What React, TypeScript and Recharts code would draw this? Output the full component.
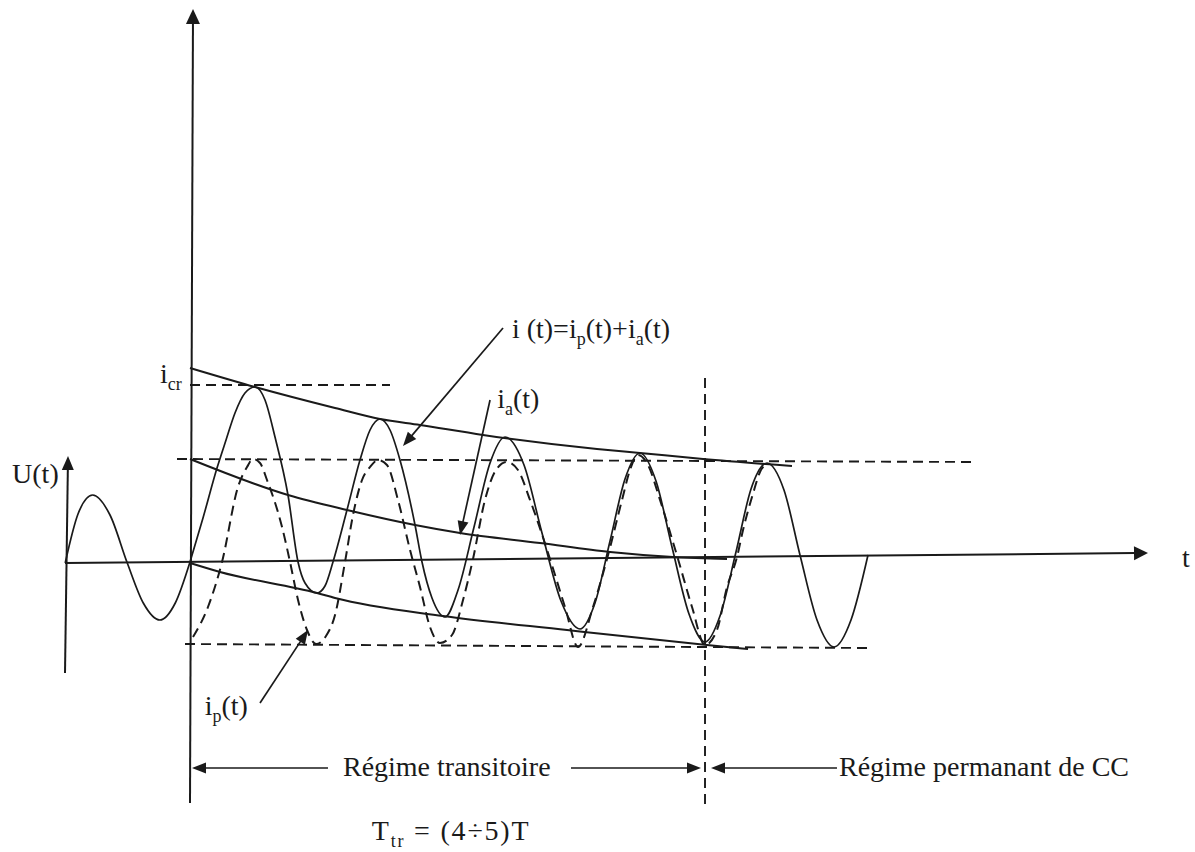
import React from 'react';
import { ComposedChart, Line, XAxis, YAxis, ReferenceLine, ReferenceDot } from 'recharts';

// time t in ms (T = 20 ms), current / voltage in arbitrary units
const T_DOMAIN: [number, number] = [-29.6875, 157.03125];
const I_DOMAIN: [number, number] = [-29, 56.2];

const uT = [-19.5, -17.5, -15.2, -12.5, -9.8, -7.3, -4.7, -2.3, 0];
const uV = [-0.1, 4.8, 6.7, 4.7, -0.1, -4.1, -5.8, -4.1, 0];

const iT = [0, 2.03, 4.22, 5.63, 7.03, 8.59, 10.16, 11.72, 13.28, 15.31, 16.88, 17.97, 19.84, 21.09, 22.34, 24.53, 26.56, 28.13, 29.69, 31.25, 32.81, 35.16, 36.25, 37.81, 39.84, 41.88, 44.38, 46.88, 49.22, 52.19, 55.0, 57.97, 60.94, 63.28, 65.63, 67.97, 70.31, 72.81, 75.31, 77.97, 80.47, 82.81, 85.31, 87.66, 90.16, 92.81, 95.31, 97.97, 100.63, 103.28, 105.94];
const iV = [0, 4.4, 9.4, 12.2, 14.9, 16.9, 17.5, 16.2, 12.5, 6.7, 0, -2.1, -3.1, -2.4, 0, 5.2, 10.2, 13.2, 14.3, 13.2, 10.2, 3.7, 0, -3.6, -5.5, -2.8, 3.5, 9.9, 12.5, 9.7, 2.9, -3.9, -6.7, -4.1, 2.1, 8.3, 10.9, 8.1, 1.5, -5.2, -8.0, -5.4, 1.0, 7.3, 9.9, 7.2, 0.7, -5.8, -8.5, -5.8, 0.7];

const ipT = [0.47, 2.81, 5.0, 7.5, 8.91, 9.84, 10.94, 12.03, 14.38, 15.63, 16.88, 18.28, 19.69, 21.25, 22.66, 24.22, 25.47, 26.88, 28.13, 29.38, 30.78, 32.5, 34.38, 35.94, 37.5, 39.06, 40.94, 42.66, 44.22, 46.09, 47.81, 49.53, 51.25, 53.13, 56.25, 58.59, 60.63, 62.97, 65.16, 67.5, 68.75, 70.0, 71.56, 73.44, 76.25, 78.44, 80.47, 82.34, 83.91, 85.47, 86.41, 88.0, 89.06, 90.16];
const ipV = [-7.5, -4.5, 0, 7.5, 9.5, 10.3, 9.9, 8.2, 3.5, 0, -3.8, -6.8, -8.2, -7.4, -5.3, 0, 4.7, 8.2, 9.5, 10.2, 9.7, 6.2, 1.2, -2.5, -6.5, -8.1, -7.3, -3.8, 0.3, 6.2, 9.2, 10.0, 9.2, 6.2, 0.3, -4.5, -8.5, -4.5, 0.3, 6.2, 9.2, 10.7, 9.7, 6.2, 0.3, -4.5, -8.3, -6.8, -2.5, 0.5, 3.2, 6.9, 9.0, 9.9];

const envUpT = [0, 10.16, 22.66, 29.69, 35.94, 45.78, 63.59, 70.31, 80.16, 94.06];
const envUpV = [19.4, 17.5, 15.4, 14.3, 13.7, 12.7, 11.3, 10.9, 10.3, 9.6];

const iaT = [0, 15.31, 24.53, 35.16, 42.19, 54.69, 65.63, 75.47, 83.91];
const iaV = [10.3, 6.7, 5.2, 3.7, 2.9, 1.9, 1.0, 0.5, 0.3];

const envLoT = [0, 4.69, 19.84, 22.66, 39.53, 58.91, 80.78, 87.19];
const envLoV = [-0.1, -1.0, -3.1, -3.6, -5.4, -6.8, -8.3, -8.7];

const zip = (ts: number[], vs: number[]) => ts.map((t, k) => ({ t, v: vs[k] }));

const uData = zip(uT, uV);
const iData = zip(iT, iV);
const ipData = zip(ipT, ipV);
const envUpData = zip(envUpT, envUpV);
const iaData = zip(iaT, iaV);
const envLoData = zip(envLoT, envLoV);

// level / marker values
const I_CR = 17.7;
const T_TR = 80.47;

const INK = '#1a1a1a';
const FONT = '"Liberation Serif", "Times New Roman", serif';

type Seg = [number, number, number, number];

const dashedSegs: Seg[] = [
  [0, I_CR, 31.25, I_CR],
  [-2.03, 10.3, 122.66, 10.0],
  [-0.78, -8.2, 105.78, -8.6],
  [T_TR, 18.4, T_TR, -24.3],
];

// arrows: [from t, from i, tip t, tip i]
const axisArrows: { s: Seg; len: number; w: number }[] = [
  { s: [0, -24.1, 0.47, 55.3], len: 15, w: 14 },
  { s: [-19.53, -0.1, 149.69, 0.9], len: 14, w: 14 },
  { s: [-19.53, -11.1, -19.06, 10.6], len: 14, w: 12 },
];

const leaderArrows: Seg[] = [
  [48.91, 23.4, 33.28, 11.6],
  [46.88, 16.2, 42.19, 2.7],
  [10.94, -14.1, 18.44, -6.8],
  [21.56, -20.6, 0.31, -20.6],
  [59.53, -20.6, 79.84, -20.6],
  [101.09, -20.6, 81.41, -20.6],
];

type Part = [string, boolean?];
const labels: { t: number; i: number; parts: Part[]; ls?: number }[] = [
  { t: -27.8, i: 7.9, parts: [['U(t)']] },
  { t: 155.0, i: -0.5, parts: [['t']] },
  { t: -4.7, i: 17.9, parts: [['i'], ['cr', true]] },
  { t: 50.3, i: 22.4, parts: [['i (t)=i'], ['p', true], ['(t)+i'], ['a', true], ['(t)']] },
  { t: 48.0, i: 15.4, parts: [['i'], ['a', true], ['(t)']] },
  { t: 2.3, i: -15.3, parts: [['i'], ['p', true], ['(t)']] },
  { t: 23.9, i: -21.4, parts: [['Régime transitoire']] },
  { t: 101.4, i: -21.4, parts: [['Régime permanant de CC']] },
  { t: 28.4, i: -27.8, parts: [['T'], ['tr', true], [' = (4÷5)T']], ls: 1.8 },
];

const SUB_DY = 7;

function textShape(parts: Part[], ls?: number) {
  return (p: any) => {
    let shifted = false;
    return (
      <text x={p.cx} y={p.cy} fontFamily={FONT} fontSize={28} fill={INK} letterSpacing={ls || 0}>
        {parts.map(([s, sub], k) => {
          let dy = 0;
          if (sub && !shifted) { dy = SUB_DY; shifted = true; }
          else if (!sub && shifted) { dy = -SUB_DY; shifted = false; }
          return (
            <tspan key={k} dy={dy} fontSize={sub ? 18 : 28}>{s}</tspan>
          );
        })}
      </text>
    );
  };
}

function arrowShape(len: number, wid: number, sw: number) {
  return (p: any) => {
    const { x1, y1, x2, y2 } = p;
    const dx = x2 - x1;
    const dy = y2 - y1;
    const d = Math.hypot(dx, dy) || 1;
    const ux = dx / d;
    const uy = dy / d;
    const bx = x2 - ux * len;
    const by = y2 - uy * len;
    const nx = (-uy * wid) / 2;
    const ny = (ux * wid) / 2;
    return (
      <g>
        <line x1={x1} y1={y1} x2={bx + ux} y2={by + uy} stroke={INK} strokeWidth={sw} />
        <polygon points={`${x2},${y2} ${bx + nx},${by + ny} ${bx - nx},${by - ny}`} fill={INK} />
      </g>
    );
  };
}

const lineCommon = {
  dataKey: 'v',
  type: 'monotone' as const,
  dot: false,
  activeDot: false,
  stroke: INK,
  isAnimationActive: false,
  legendType: 'none' as const,
};

export default function App() {
  return (
    <div style={{ position: 'absolute', left: 0, top: 0, width: 1195, height: 852, background: '#fff' }}>
      <ComposedChart width={1195} height={852} margin={{ top: 0, right: 0, bottom: 0, left: 0 }}>
        <XAxis type="number" dataKey="t" domain={T_DOMAIN} allowDataOverflow hide />
        <YAxis type="number" domain={I_DOMAIN} allowDataOverflow hide />

        {dashedSegs.map((s, k) => (
          <ReferenceLine
            key={'d' + k}
            segment={[{ x: s[0], y: s[1] }, { x: s[2], y: s[3] }]}
            stroke={INK}
            strokeWidth={1.9}
            strokeDasharray="10 6"
            ifOverflow="visible"
          />
        ))}

        {axisArrows.map((a, k) => (
          <ReferenceLine
            key={'a' + k}
            segment={[{ x: a.s[0], y: a.s[1] }, { x: a.s[2], y: a.s[3] }]}
            ifOverflow="visible"
            shape={arrowShape(a.len, a.w, 2)}
          />
        ))}

        {leaderArrows.map((s, k) => (
          <ReferenceLine
            key={'l' + k}
            segment={[{ x: s[0], y: s[1] }, { x: s[2], y: s[3] }]}
            ifOverflow="visible"
            shape={arrowShape(14, 11, 1.7)}
          />
        ))}

        <Line {...lineCommon} data={uData} strokeWidth={1.7} />
        <Line {...lineCommon} data={envUpData} strokeWidth={2} />
        <Line {...lineCommon} data={iaData} strokeWidth={2} />
        <Line {...lineCommon} data={envLoData} strokeWidth={2} />
        <Line {...lineCommon} data={ipData} strokeWidth={2} strokeDasharray="10 6" />
        <Line {...lineCommon} data={iData} strokeWidth={1.7} />

        {labels.map((l, k) => (
          <ReferenceDot key={'t' + k} x={l.t} y={l.i} r={1} ifOverflow="visible" shape={textShape(l.parts, l.ls)} />
        ))}
      </ComposedChart>
    </div>
  );
}
